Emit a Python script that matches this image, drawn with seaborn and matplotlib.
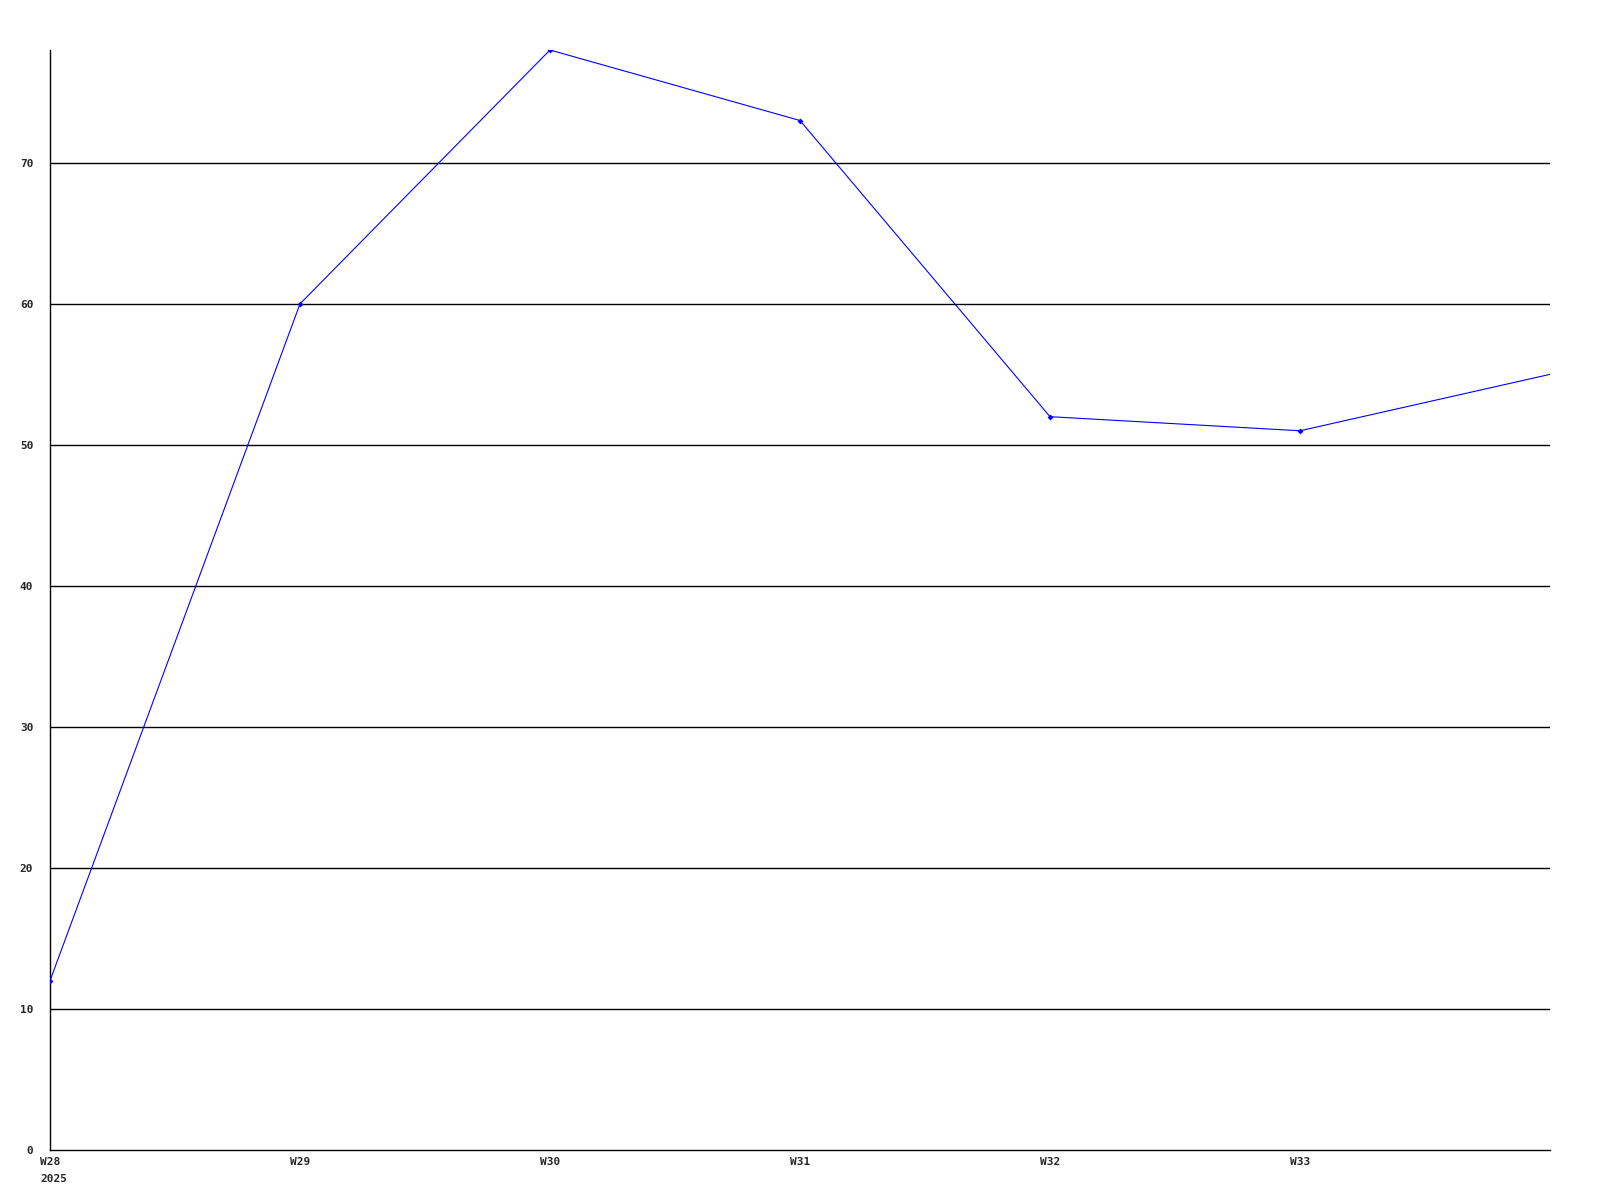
import matplotlib
matplotlib.use("Agg")
import matplotlib.pyplot as plt
import matplotlib.transforms as mtransforms
import seaborn as sns
import pandas as pd

# data (ISO weeks, year 2025)
weeks = ["W28", "W29", "W30", "W31", "W32", "W33", "W34"]
values = [12, 60, 78, 73, 52, 51, 55]
year_label = "2025"
y_ticks = [0, 10, 20, 30, 40, 50, 60, 70]

df = pd.DataFrame({"pos": range(len(weeks)), "week": weeks, "value": values})

sns.set_style("white")
plt.rcParams["font.family"] = ["DejaVu Sans Mono"]

fig = plt.figure(figsize=(16, 12), dpi=100)
ax = fig.add_axes([50 / 1600, 50 / 1200, 1500 / 1600, 1100 / 1200])

# horizontal grid lines
for yv in y_ticks[1:]:
    ax.axhline(yv, color="black", lw=1, zorder=1)

sns.lineplot(data=df, x="pos", y="value", ax=ax, color="#0000ff", lw=0.8,
             marker="D", markersize=3, markeredgewidth=0, zorder=3,
             markevery=list(range(len(weeks) - 1)))

ax.set_xlim(0, len(weeks) - 1)
ax.set_ylim(0, max(values))
ax.set_xticks(df["pos"][:-1])
ax.set_xticklabels(weeks[:-1])
ax.set_yticks(y_ticks)
ax.set_yticklabels([str(v) for v in y_ticks])
ax.tick_params(axis="both", length=0, labelsize=8)
ax.tick_params(axis="y", pad=12)
ax.tick_params(axis="x", pad=5)
for lab in ax.get_xticklabels() + ax.get_yticklabels():
    lab.set_fontweight("bold")

trans = mtransforms.blended_transform_factory(ax.transData, ax.transAxes)
ax.text(-0.04, -0.022, year_label, transform=trans, ha="left", va="top",
        fontsize=8, fontweight="bold")

ax.set_xlabel("")
ax.set_ylabel("")
for side in ["top", "right"]:
    ax.spines[side].set_visible(False)
for side in ["left", "bottom"]:
    ax.spines[side].set_color("black")
    ax.spines[side].set_linewidth(1)

fig.savefig("out.png", dpi=100, facecolor="white")
